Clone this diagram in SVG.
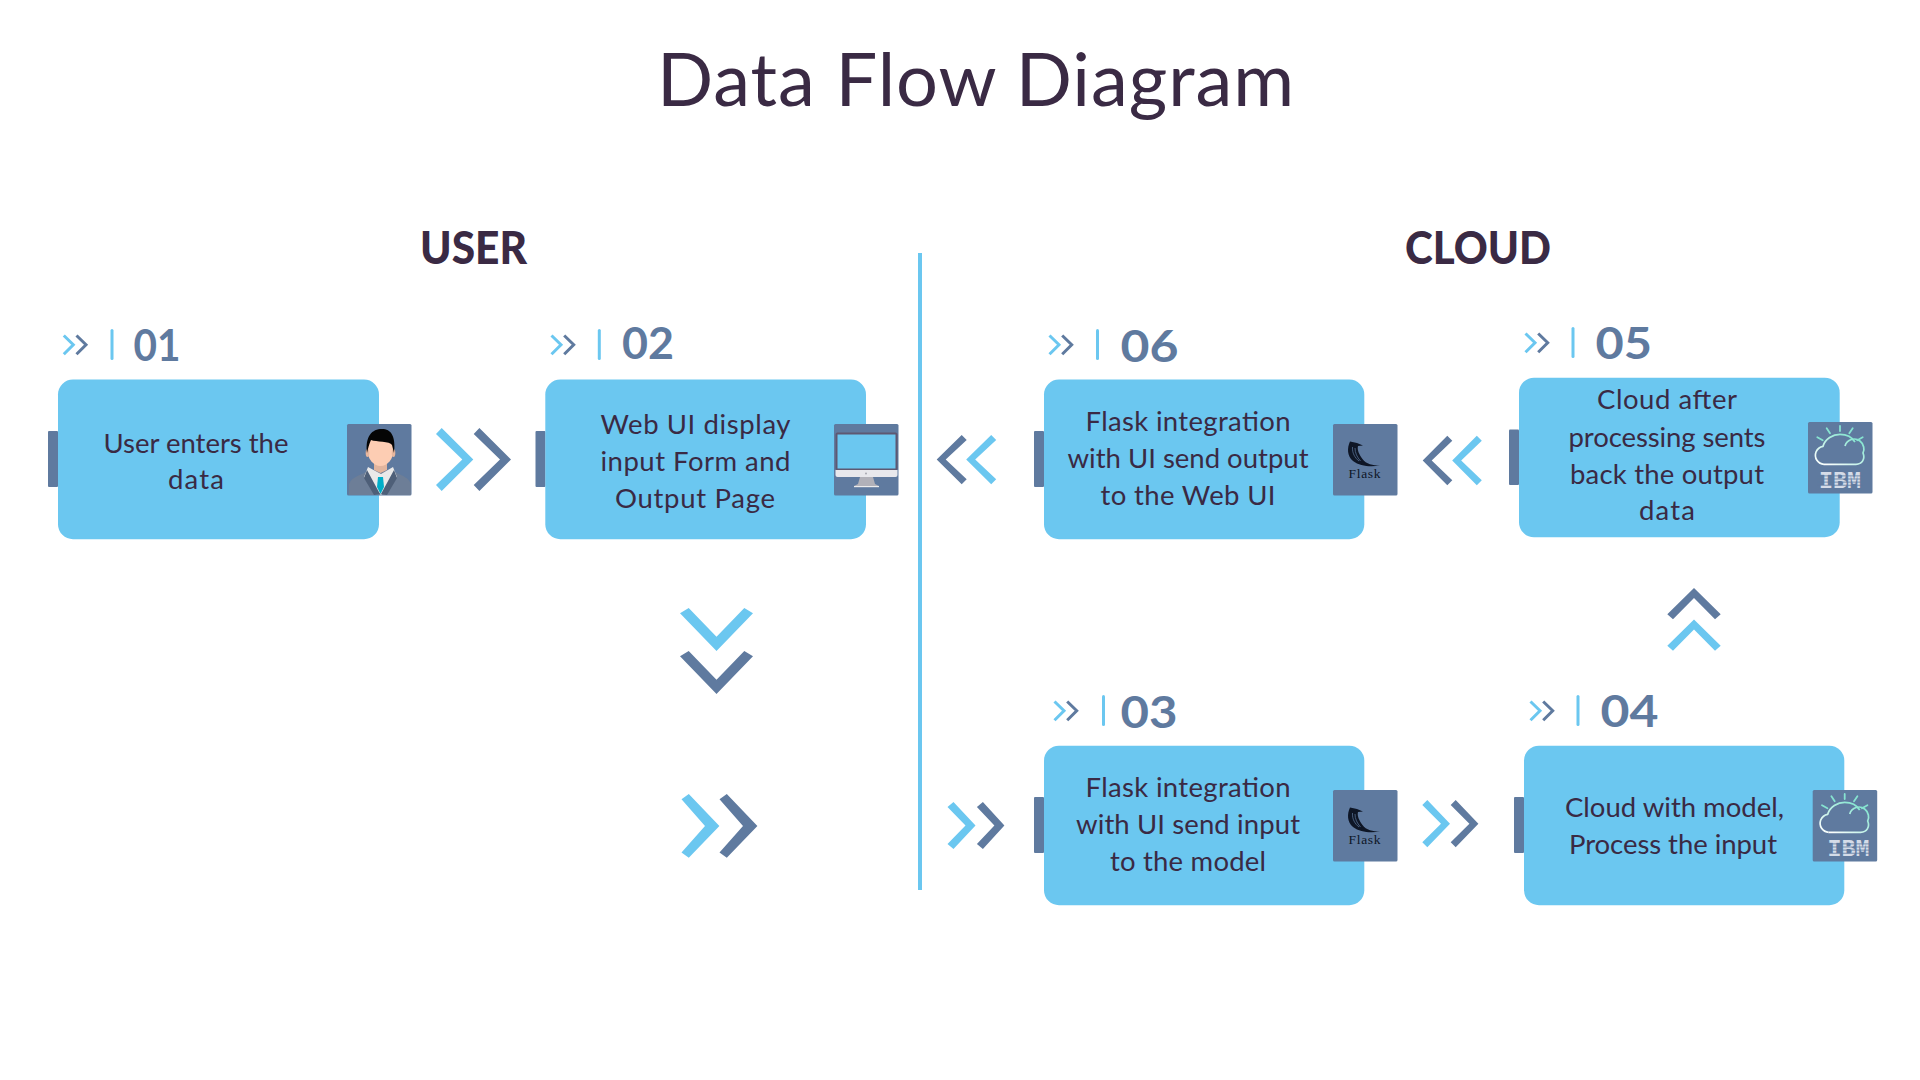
<svg xmlns="http://www.w3.org/2000/svg" width="1920" height="1080" viewBox="0 0 1920 1080">
<style>
.box{fill:#6BC7F0}
.dk{fill:#5F7A9F}
.lt{fill:#6BC7F0}
.t{font-family:"Lato","Liberation Sans",sans-serif;font-size:27.5px;fill:#3A2A44;text-anchor:middle}
.n{font-family:"Lato","Liberation Sans",sans-serif;font-size:44px;font-weight:700;fill:#5F7A9F}
.h{font-family:"Lato","Liberation Sans",sans-serif;font-size:46px;font-weight:900;fill:#3A2A44}
.ttl{font-family:"Lato","Liberation Sans",sans-serif;font-size:74px;fill:#3A2A44}
.fl{font-family:"Liberation Serif",serif;font-size:13.5px;fill:#0E1626}
.ib{font-family:"Liberation Mono",monospace;font-size:23px;font-weight:700;fill:#D5DCE8}
.stripe{fill:#5F7A9F}
.ray{stroke:#86E3D0;stroke-width:1.8;fill:none;stroke-linecap:round}
</style>
<defs>
<linearGradient id="cg" x1="0" y1="1" x2="1" y2="0"><stop offset="0" stop-color="#FFFFFF"/><stop offset="1" stop-color="#7CE3CC"/></linearGradient>
<g id="sm">
<polyline points="1.5,1.5 11,10.8 1.5,20.2" fill="none" stroke="#6BC7F0" stroke-width="3"/>
<polyline points="14.2,1.5 23.7,10.8 14.2,20.2" fill="none" stroke="#5F7A9F" stroke-width="3"/>
</g>
<rect id="ic" width="64.5" height="71.5" rx="1.5" fill="#5F7A9F"/>
<g id="cloud">
<path d="M16 42.300C10 42 5.800 36 8 30C9.500 26.500 12 24.800 15 24.300C17 17 25 12.300 32 12.300C38 12.300 44 15 47 20" fill="none" stroke="url(#cg)" stroke-width="1.700"/>
<path d="M37 24C39 17.500 47 15 52 19C56 22 56.800 28 55 31C57.500 37 54 42.300 48 42.300L16 42.300" fill="none" stroke="url(#cg)" stroke-width="1.700"/>
<path class="ray" d="M32 4V9M18.700 6.300L22 11.300M44.700 6.300L41.300 11.300M9.300 15.300L14.700 18.300M54.700 15.300L49.300 18.300"/>
</g>
<g id="stripes">
<rect x="0" y="3.500" width="46" height="0.800" class="stripe"/>
<rect x="0" y="6.600" width="46" height="0.800" class="stripe"/>
<rect x="0" y="9.700" width="46" height="0.800" class="stripe"/>
<rect x="0" y="12.800" width="46" height="0.800" class="stripe"/>
</g>
<g id="flask">
<use href="#ic"/>
<path d="M17 17.500C14 24 14 32 20 37C27 42.500 38 43 47 41.500C40 41.500 33 40 29.500 35C26 30 24 26 25 22L30 21.500L24 19Z" fill="#0E1626"/>
<path d="M19.500 23C19 29 22 34 26 37M22 24C22 29 24 33 27.500 37" stroke="#5F7A9F" stroke-width="0.700" fill="none"/>
<text class="fl" x="15.500" y="54" textLength="32">Flask</text>
</g>
</defs>
<rect width="1920" height="1080" fill="#FFFFFF"/>
<text class="ttl" x="657" y="106" textLength="637">Data Flow Diagram</text>
<text class="h" x="420" y="264" textLength="107" lengthAdjust="spacingAndGlyphs">USER</text>
<text class="h" x="1405" y="264" textLength="146" lengthAdjust="spacingAndGlyphs">CLOUD</text>
<rect id="divider" x="918" y="253" width="4" height="637" class="lt"/>

<g id="connectors">
<polygon class="lt" points="441.700,428 473.300,459.500 441.700,491 436,485 462.300,459.500 436,434"/>
<polygon class="dk" points="479.400,428 511,459.500 479.400,491 473.700,485 500,459.500 473.700,434"/>
<polygon class="dk" points="961.700,435 936.700,459.600 961.700,484.300 966.700,479.300 945.700,459.600 966.700,440"/>
<polygon class="lt" points="991.200,435 966.200,459.600 991.200,484.300 996.200,479.300 975.200,459.600 996.200,440"/>
<polygon class="dk" points="1447.300,435.700 1422.700,460.500 1447.300,485.300 1452.300,480.300 1431.700,460.500 1452.300,440.700"/>
<polygon class="lt" points="1476.800,435.700 1452.200,460.500 1476.800,485.300 1481.800,480.300 1461.200,460.500 1481.800,440.700"/>
<polygon class="dk" points="1694,588 1720.700,614.300 1715,619.300 1694,598 1673,619.300 1667.300,614.300"/>
<polygon class="lt" points="1694,619.400 1720.700,645.700 1715,650.700 1694,629.400 1673,650.700 1667.300,645.700"/>
<polygon class="lt" points="680,613.300 688.700,608 716.500,636.700 744.300,608 753,613.300 716.500,651"/>
<polygon class="dk" points="680,656.300 688.700,651 716.500,679.700 744.300,651 753,656.300 716.500,694"/>
<polygon class="lt" points="688.800,794 719.400,826 688.800,857.700 681.500,852.400 705,826 681.500,799.300"/>
<polygon class="dk" points="726.800,794 757.400,826 726.800,857.700 719.500,852.400 743,826 719.500,799.300"/>
<polygon class="lt" points="953.500,802 975.500,825.500 953.500,849 947.500,844 965.500,825.500 947.500,807"/>
<polygon class="dk" points="982.900,802 1004.400,825.500 982.900,849 976.900,844 994.400,825.500 976.900,807"/>
<polygon class="lt" points="1427.300,800 1450,823.700 1427.300,847.300 1422.300,842.300 1441,823.700 1422.300,805"/>
<polygon class="dk" points="1455.700,800 1478.400,823.700 1455.700,847.300 1450.700,842.300 1469.400,823.700 1450.700,805"/>
</g>

<g id="node-01">
<use href="#sm" x="62.300" y="334"/>
<rect x="110.500" y="329" width="3" height="31" rx="1.500" class="lt"/>
<text class="n" x="133.500" y="361" textLength="47" lengthAdjust="spacingAndGlyphs">01</text>
<rect x="48" y="431" width="10" height="56" rx="1" class="dk"/>
<rect x="58" y="379.500" width="321" height="159.700" rx="15" class="box"/>
<text class="t" x="196" y="452.500" textLength="185">User enters the</text>
<text class="t" x="196" y="489" textLength="56">data</text>
<use href="#ic" x="347" y="424"/>
<path d="M349 495V484Q351 478 362 474L368 471H393L399 474Q409 478 411 484V495Z" fill="#6D7E97"/>
<path d="M368 467L381 474L393 467L397 477L381 495L364 477Z" fill="#E9E9E9"/>
<path d="M367 470L380 494L374 495L364 478ZM394 470L381 494L387 495L397 478Z" fill="#4E5F78"/>
<path d="M378 477H383L384 487L380.500 494L377 487Z" fill="#00AEC9"/>
<path d="M374 458H387V470L380.500 473L374 470Z" fill="#E2B59E"/>
<ellipse cx="380.500" cy="450" rx="13" ry="16" fill="#FDCDB3"/>
<ellipse cx="367.500" cy="453" rx="1.800" ry="4" fill="#E8B79E"/>
<ellipse cx="393.500" cy="453" rx="1.800" ry="4" fill="#E8B79E"/>
<path d="M367 453C365 436 372 429 382 429C391 429 396 436 394 453L392 445C390 441 376 442 371 440C369 444 368 449 367 453Z" fill="#050505"/>
</g>

<g id="node-02">
<use href="#sm" x="550" y="334"/>
<rect x="597.800" y="329" width="3" height="31" rx="1.500" class="lt"/>
<text class="n" x="622" y="359" textLength="52" lengthAdjust="spacingAndGlyphs">02</text>
<rect x="535.500" y="431" width="10" height="56" rx="1" class="dk"/>
<rect x="545.300" y="379.500" width="320.700" height="159.700" rx="15" class="box"/>
<text class="t" x="695.500" y="433.500" textLength="190">Web UI display</text>
<text class="t" x="695.500" y="470.500" textLength="190">input Form and</text>
<text class="t" x="695" y="507.500" textLength="160">Output Page</text>
<use href="#ic" x="834" y="424"/>
<rect x="836.500" y="433.500" width="60" height="36" rx="1" fill="#6BC7F0" stroke="#5E5872" stroke-width="2"/>
<path d="M835.500 470H897.500V475Q897.500 477 895.500 477H837.500Q835.500 477 835.500 475Z" fill="#E8E8EC"/>
<circle cx="866" cy="473.500" r="1" fill="#A9A9B0"/>
<path d="M860 477H873L875 484L879 486H854L858 484Z" fill="#B1B1B9"/>
<rect x="854" y="486" width="25" height="1.200" fill="#ECECEC"/>
</g>

<g id="node-03">
<use href="#sm" x="1053" y="700"/>
<rect x="1102" y="695" width="3" height="31" rx="1.500" class="lt"/>
<text class="n" x="1120.500" y="727.500" textLength="57" lengthAdjust="spacingAndGlyphs">03</text>
<rect x="1034" y="797" width="10" height="56" rx="1" class="dk"/>
<rect x="1044" y="745.700" width="320.300" height="159.500" rx="15" class="box"/>
<text class="t" x="1188" y="796.500" textLength="205">Flask integration</text>
<text class="t" x="1188" y="833.500" textLength="224">with UI send input</text>
<text class="t" x="1188" y="870.500" textLength="156">to the model</text>
<use href="#flask" x="1333" y="790"/>
</g>

<g id="node-04">
<use href="#sm" x="1529" y="700"/>
<rect x="1576.500" y="695" width="3" height="31" rx="1.500" class="lt"/>
<text class="n" x="1600.500" y="727" textLength="58" lengthAdjust="spacingAndGlyphs">04</text>
<rect x="1514" y="797" width="10" height="56" rx="1" class="dk"/>
<rect x="1524" y="745.700" width="320.300" height="159.500" rx="15" class="box"/>
<text class="t" x="1674.500" y="816.500" textLength="219">Cloud with model,</text>
<text class="t" x="1673" y="853.500" textLength="208">Process the input</text>
<use href="#ic" x="1812.700" y="790"/>
<use href="#cloud" x="1812.700" y="790"/>
<text class="ib" x="1827.500" y="855.500" textLength="42" lengthAdjust="spacingAndGlyphs">IBM</text>
<use href="#stripes" x="1825" y="840"/>
</g>

<g id="node-05">
<use href="#sm" x="1524" y="332"/>
<rect x="1571.500" y="327" width="3" height="31" rx="1.500" class="lt"/>
<text class="n" x="1595.500" y="359" textLength="56.500" lengthAdjust="spacingAndGlyphs">05</text>
<rect x="1509" y="429.500" width="10" height="55.500" rx="1" class="dk"/>
<rect x="1519" y="377.700" width="320.700" height="159.500" rx="15" class="box"/>
<text class="t" x="1667" y="409" textLength="140">Cloud after</text>
<text class="t" x="1667" y="446.500" textLength="197">processing sents</text>
<text class="t" x="1667" y="483.500" textLength="194">back the output</text>
<text class="t" x="1667" y="520" textLength="56">data</text>
<use href="#ic" x="1808" y="422"/>
<use href="#cloud" x="1808" y="422"/>
<text class="ib" x="1819" y="487.500" textLength="42" lengthAdjust="spacingAndGlyphs">IBM</text>
<use href="#stripes" x="1817" y="472"/>
</g>

<g id="node-06">
<use href="#sm" x="1048" y="334"/>
<rect x="1096" y="329" width="3" height="31" rx="1.500" class="lt"/>
<text class="n" x="1120.500" y="361.500" textLength="58" lengthAdjust="spacingAndGlyphs">06</text>
<rect x="1034" y="431" width="10" height="56" rx="1" class="dk"/>
<rect x="1044" y="379.500" width="320.300" height="159.700" rx="15" class="box"/>
<text class="t" x="1188" y="430.500" textLength="205">Flask integration</text>
<text class="t" x="1188" y="467.500" textLength="241">with UI send output</text>
<text class="t" x="1188" y="504.500" textLength="175">to the Web UI</text>
<use href="#flask" x="1333" y="424"/>
</g>
</svg>
